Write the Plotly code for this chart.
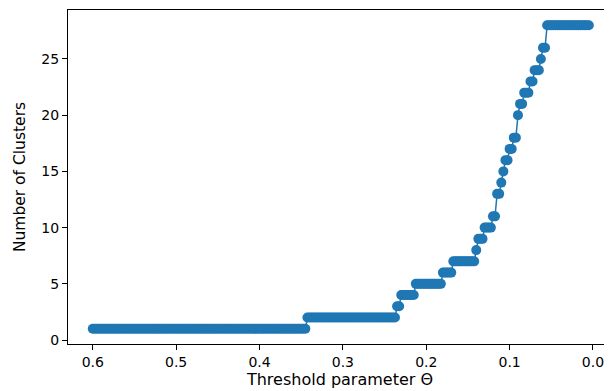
import numpy as np
import plotly.graph_objects as go

# Threshold sweep (x) and cluster counts
thresholds = np.round(np.arange(0.6, 0.004, -0.0025), 4)
cluster_levels = [1, 2, 3, 4, 5, 6, 7, 8, 9, 10, 11, 13, 14, 15, 16, 17, 18,
                  20, 21, 22, 23, 24, 25, 26, 28]
level_counts = [103, 43, 2, 7, 13, 5, 11, 1, 3, 4, 2, 2, 1, 1, 2, 2, 2,
                1, 2, 3, 2, 3, 1, 2, 21]
clusters = np.repeat(cluster_levels, level_counts)

x_ticks = [0.6, 0.5, 0.4, 0.3, 0.2, 0.1, 0.0]
x_tick_labels = ["0.6", "0.5", "0.4", "0.3", "0.2", "0.1", "0.0"]
y_ticks = [0, 5, 10, 15, 20, 25]

blue = "#1f77b4"
font = dict(family="DejaVu Sans", size=14, color="#000000")

fig = go.Figure()
fig.add_trace(go.Scatter(
    x=thresholds, y=clusters, mode="lines+markers",
    line=dict(color=blue, width=1.5),
    marker=dict(color=blue, size=10, line=dict(width=0)),
    showlegend=False,
))

# page body has an 8px margin, so the figure is sized to end at the window edge
fig.update_layout(
    width=604, height=383,
    margin=dict(l=60, r=0, t=2, b=47),
    paper_bgcolor="white", plot_bgcolor="white",
    font=font,
)
fig.update_xaxes(
    range=[0.6297, -0.0228], automargin=False,
    tickvals=x_ticks, ticktext=x_tick_labels,
    showgrid=False, zeroline=False,
    showline=True, linecolor="black", linewidth=1, mirror=True,
    ticks="outside", ticklen=5, tickwidth=1, tickcolor="black",
    title=dict(text="Threshold parameter Θ", font=dict(size=16), standoff=5),
)
fig.update_yaxes(
    range=[-0.35, 29.35], automargin=False,
    tickvals=y_ticks,
    showgrid=False, zeroline=False,
    showline=True, linecolor="black", linewidth=1, mirror=False,
    ticks="outside", ticklen=5, tickwidth=1, tickcolor="black",
    title=dict(text="Number of Clusters", font=dict(size=15.5), standoff=11),
)

fig.write_html("out.html")
